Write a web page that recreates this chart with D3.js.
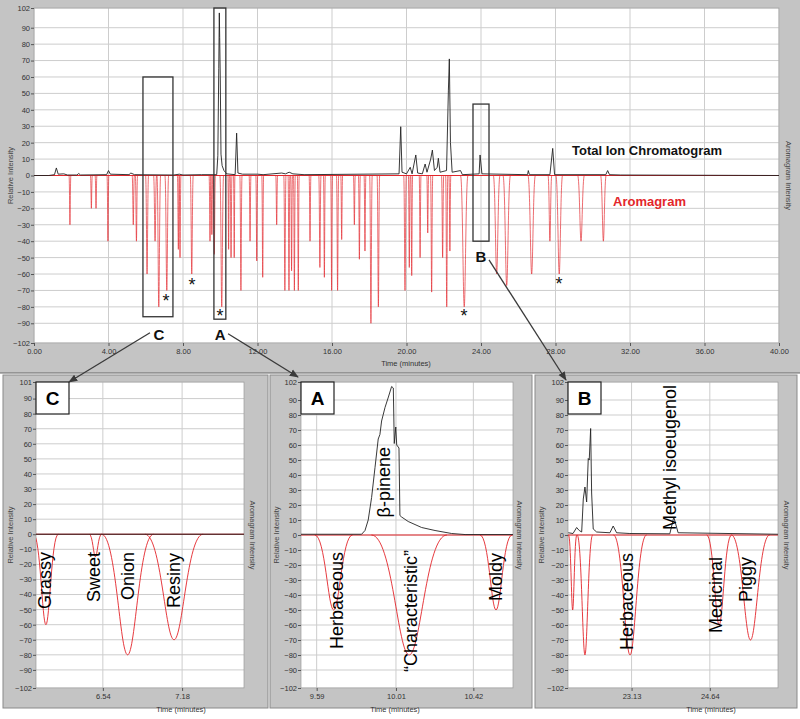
<!DOCTYPE html>
<html>
<head>
<meta charset="utf-8">
<script src="https://cdn.jsdelivr.net/npm/d3@7"></script>
<style>
	body { margin: 0; background: #fff; }
	svg { display: block; font-family: "Liberation Sans", Arial, sans-serif; }
</style>
</head>
<body>
<svg id="chart" width="800" height="719"></svg>
<script>
// ---------- data ----------
const yTicks = [102, 90, 80, 70, 60, 50, 40, 30, 20, 10, 0, -10, -20, -30, -40, -50, -60, -70, -80, -90, -102];
const yTicksC = [101, 90, 80, 70, 60, 50, 40, 30, 20, 10, 0, -10, -20, -30, -40, -50, -60, -70, -80, -90, -102];
const xTicksTop = [0, 4, 8, 12, 16, 20, 24, 28, 32, 36, 40];
const xTicksC = [6.54, 7.18];
const xTicksA = [9.59, 10.01, 10.42];
const xTicksB = [23.13, 24.64];

// full run aromagram: apex time, depth, half width (min)
const topPeakTime = [1.93, 3.08, 3.33, 3.97, 5.33, 5.5, 6.07, 6.5, 6.7, 7.13, 7.75, 7.84, 8.47, 9.45, 9.55, 9.68, 10.08,
	10.45, 10.58, 10.75, 11.11, 11.6, 11.96, 12.28, 13.03, 13.47, 13.69, 13.83, 13.98, 14.19, 14.82, 15.35, 15.59, 15.98,
	16.3, 16.52, 17.2, 17.47, 17.77, 18.09, 18.49, 19.92, 20.15, 20.28, 20.73, 21.14, 21.35, 21.94, 22.16, 22.33, 23.1,
	24.84, 25.38, 26.72, 27.7, 28.2, 29.37, 30.57];
const topPeakDepth = [30, 20, 20, 40, 30, 40, 60, 40, 80, 70, 45, 50, 60, 40, 36, 48, 80,
	45, 50, 50, 70, 40, 52, 62, 30, 70, 70, 58, 70, 70, 40, 56, 62, 70,
	70, 39, 30, 51, 46, 90, 80, 70, 56, 61, 50, 35, 71, 50, 80, 46, 80,
	60, 67, 60, 40, 60, 40, 40];
const topPeakWidth = [0.05, 0.05, 0.05, 0.05, 0.06, 0.06, 0.08, 0.08, 0.1, 0.1, 0.05, 0.05, 0.08, 0.05, 0.05, 0.06, 0.1,
	0.04, 0.05, 0.04, 0.06, 0.05, 0.05, 0.05, 0.05, 0.06, 0.05, 0.05, 0.05, 0.05, 0.05, 0.06, 0.05, 0.05,
	0.06, 0.05, 0.05, 0.05, 0.05, 0.07, 0.07, 0.07, 0.05, 0.05, 0.05, 0.05, 0.06, 0.06, 0.06, 0.05, 0.2,
	0.18, 0.2, 0.2, 0.1, 0.18, 0.18, 0.15];

// full run total ion chromatogram
const ticTime = [0, 0.8, 1.1, 1.2, 1.3, 1.6, 1.8, 2.3, 2.4, 2.5, 3.9, 4.0, 4.1, 5.1, 5.2, 5.4, 7.5, 7.8, 8.0, 9.0,
	9.81, 9.87, 9.92, 9.95, 9.97, 10.0, 10.04, 10.1, 10.2, 10.35, 10.8, 10.88, 10.95, 11.2, 12.0, 12.3, 13.3, 13.5,
	13.7, 13.9, 14.5, 19.6, 19.69, 19.76, 20.0, 20.2, 20.3, 20.5, 20.6, 20.85, 21.0, 21.1, 21.3, 21.39, 21.5, 21.65,
	21.71, 21.8, 22.15, 22.25, 22.3, 22.36, 22.45, 22.9, 23.0, 23.9, 23.95, 24.05, 26.5, 26.54, 26.6, 27.7, 27.85,
	27.95, 30.7, 30.8, 30.9, 31.5, 40];
const ticValue = [0, 0, 0.5, 4.6, 0.8, 1, 0.3, 0.3, 1.2, 0.3, 0.5, 3, 0.8, 0.5, 1.5, 0.5, 0.3, 0.8, 0.3, 0.5,
	0.5, 12, 65, 99, 84, 60, 13, 6, 3, 1, 0.5, 25.8, 1.5, 0.8, 0.8, 0.5, 1.5, 1,
	2, 1, 0.5, 1, 29.7, 2, 1, 5, 1, 12.5, 1.5, 1, 7, 2, 10, 15.5, 3, 5,
	10.5, 2, 3, 52, 71, 20, 2, 3, 0.5, 1, 12.5, 1, 0.5, 3, 0.5, 0.5, 16.5,
	0.5, 0.5, 3, 0.5, 0.3, 0];

// panel C
const cPeakTime = [6.08, 6.48, 6.74, 7.115];
const cPeakDepth = [60, 15, 80, 70];
const cPeakWidth = [0.1, 0.05, 0.21, 0.235];
const cTicTime = [6.0, 7.68];
const cTicValue = [0, 0];
const cLabels = ["Grassy", "Sweet", "Onion", "Resiny"];
const cLabelTime = [6.12, 6.52, 6.79, 7.16];

// panel A
const aPeakTime = [9.68, 10.08, 10.54];
const aPeakDepth = [50, 80, 50];
const aPeakWidth = [0.1, 0.2, 0.085];
const aTicTime = [9.507, 9.828, 9.846, 9.863, 9.881, 9.899, 9.916, 9.925, 9.934, 9.952, 9.97, 9.987, 9.996, 10.001,
	10.009, 10.014, 10.026, 10.031, 10.04, 10.075, 10.146, 10.217, 10.305, 10.376, 10.63];
const aTicValue = [0.5, 0.5, 3, 10, 25, 45, 64, 67, 76, 85, 92, 99, 98, 61,
	72, 60, 58, 13, 12, 9, 5, 3, 1, 0.3, 0.3];
const aLabels = ["Herbaceous", "β-pinene", "“Characteristic”", "Moldy"];
const aLabelTime = [9.73, 9.98, 10.12, 10.57];

// panel B
const bPeakTime = [21.993, 22.23, 23.1, 24.82, 25.425];
const bPeakDepth = [50, 80, 80, 60, 70];
const bPeakWidth = [0.08, 0.15, 0.32, 0.24, 0.37];
const bTicTime = [21.908, 22.0, 22.07, 22.12, 22.167, 22.198, 22.23, 22.263, 22.294, 22.313, 22.34, 22.359, 22.39,
	22.456, 22.712, 22.775, 22.841, 23.097, 23.868, 23.945, 24.028, 25.955];
const bTicValue = [1.5, 1, 5, 3, 2, 24, 32, 22, 51, 50, 71, 28, 4,
	2, 1.5, 6, 1.5, 1, 0.8, 12, 1.5, 0.5];
const bLabels = ["Herbaceous", "Methyl isoeugenol", "Medicinal", "Piggy"];
const bLabelTime = [23.16, 23.99, 24.87, 25.45];

// ---------- drawing ----------
const red = "#e3262b";
const grid = "#cdcdcd";
const svg = d3.select("#chart");

const defs = svg.append("defs");
defs.append("marker")
	.attr("id", "arrow")
	.attr("viewBox", "0 0 10 10")
	.attr("refX", 9)
	.attr("refY", 5)
	.attr("markerWidth", 7)
	.attr("markerHeight", 7)
	.attr("orient", "auto")
	.append("path")
	.attr("d", "M0,1 L10,5 L0,9 Z")
	.attr("fill", "#3a3a3a");

svg.append("rect").attr("width", 800).attr("height", 719).attr("fill", "#fff");
svg.append("rect").attr("width", 800).attr("height", 373).attr("fill", "#c4c4c4");
svg.append("line").attr("x1", 0).attr("x2", 800).attr("y1", 373).attr("y2", 373).attr("stroke", "#666");

function peakPath(x, y, t, d, w) {
	const yb = y(0);
	const yp = y(-d);
	return "M" + [x(t - w), yb] +
		"C" + [x(t - w * 0.45), yb] + " " + [x(t - w * 0.3), yp] + " " + [x(t), yp] +
		"C" + [x(t + w * 0.3), yp] + " " + [x(t + w * 0.45), yb] + " " + [x(t + w), yb];
}

let clipId = 0;

function drawPlot(cfg) {
	const g = svg.append("g");
	const x = d3.scaleLinear().domain(cfg.xDomain).range([cfg.x0, cfg.x1]);
	const y = d3.scaleLinear().domain(cfg.yDomain).range([cfg.y1, cfg.y0]);

	g.append("rect")
		.attr("x", cfg.x0).attr("y", cfg.y0)
		.attr("width", cfg.x1 - cfg.x0).attr("height", cfg.y1 - cfg.y0)
		.attr("fill", "#fff");

	g.selectAll(".hgrid")
		.data(cfg.yTicks)
		.join("line")
		.attr("class", "hgrid")
		.attr("x1", cfg.x0).attr("x2", cfg.x1)
		.attr("y1", (d) => y(d)).attr("y2", (d) => y(d))
		.attr("stroke", grid);

	g.selectAll(".vgrid")
		.data(cfg.xTicks)
		.join("line")
		.attr("class", "vgrid")
		.attr("y1", cfg.y0).attr("y2", cfg.y1)
		.attr("x1", (d) => x(d)).attr("x2", (d) => x(d))
		.attr("stroke", grid);

	g.append("rect")
		.attr("x", cfg.x0).attr("y", cfg.y0)
		.attr("width", cfg.x1 - cfg.x0).attr("height", cfg.y1 - cfg.y0)
		.attr("fill", "none")
		.attr("stroke", "#9a9a9a")
		.attr("stroke-width", 0.7);

	const yAxis = g.append("g")
		.attr("transform", `translate(${cfg.x0},0)`)
		.call(d3.axisLeft(y).tickValues(cfg.yTicks).tickSize(3).tickPadding(1));
	const xAxis = g.append("g")
		.attr("transform", `translate(0,${cfg.y1})`)
		.call(d3.axisBottom(x).tickValues(cfg.xTicks).tickSize(3).tickPadding(3).tickFormat(d3.format(".2f")));
	[yAxis, xAxis].forEach((a) => {
		a.select(".domain").remove();
		a.selectAll("line").attr("stroke", "#555");
		a.selectAll("text").attr("font-size", 7.5).attr("fill", "#333").attr("font-family", null);
	});

	g.append("text")
		.attr("transform", `translate(${cfg.relX},${(cfg.y0 + cfg.y1) / 2}) rotate(-90)`)
		.attr("text-anchor", "middle")
		.attr("font-size", 7.5)
		.attr("fill", "#444")
		.text("Relative Intensity");
	g.append("text")
		.attr("transform", `translate(${cfg.aroX},${(cfg.y0 + cfg.y1) / 2}) rotate(90)`)
		.attr("text-anchor", "middle")
		.attr("font-size", 7.5)
		.attr("fill", "#444")
		.text("Aromagram Intensity");
	g.append("text")
		.attr("x", cfg.timeX).attr("y", cfg.timeY)
		.attr("text-anchor", "middle")
		.attr("font-size", 7.5)
		.attr("fill", "#333")
		.text("Time (minutes)");

	const id = "clip" + clipId++;
	defs.append("clipPath").attr("id", id)
		.append("rect")
		.attr("x", cfg.x0).attr("y", cfg.y0)
		.attr("width", cfg.x1 - cfg.x0).attr("height", cfg.y1 - cfg.y0);
	const plot = g.append("g").attr("clip-path", `url(#${id})`);

	plot.append("line")
		.attr("x1", cfg.x0).attr("x2", cfg.x1)
		.attr("y1", y(0)).attr("y2", y(0))
		.attr("stroke", red)
		.attr("stroke-width", 1);

	plot.selectAll(".peak")
		.data(cfg.peakTime.map((t, i) => ({ t, d: cfg.peakDepth[i], w: cfg.peakWidth[i] })))
		.join("path")
		.attr("class", "peak")
		.attr("d", (p) => peakPath(x, y, p.t, p.d, p.w))
		.attr("fill", "none")
		.attr("stroke", red)
		.attr("stroke-opacity", cfg.peakOpacity)
		.attr("stroke-width", cfg.peakStroke);

	const line = d3.line().x((d) => x(d[0])).y((d) => y(d[1]));
	plot.append("path")
		.datum(cfg.ticTime.map((t, i) => [t, cfg.ticValue[i]]))
		.attr("d", line)
		.attr("fill", "none")
		.attr("stroke", "#222")
		.attr("stroke-width", 0.9);

	return { g, x, y };
}

// ---------- full run chart ----------
const full = drawPlot({
	x0: 34, x1: 779, y0: 8, y1: 343,
	xDomain: [0, 40], yDomain: [-102, 102],
	xTicks: xTicksTop, yTicks: yTicks,
	relX: 13, aroX: 786, timeX: 406, timeY: 366,
	peakTime: topPeakTime, peakDepth: topPeakDepth, peakWidth: topPeakWidth,
	peakStroke: 0.9, peakOpacity: 0.75,
	ticTime: ticTime, ticValue: ticValue,
});

// zoom boxes on the full run (time / intensity units)
const zoomBoxes = [
	{ t0: 5.85, t1: 7.46, v0: -86, v1: 60 },
	{ t0: 9.66, t1: 10.3, v0: -87.5, v1: 102 },
	{ t0: 23.57, t1: 24.43, v0: -40, v1: 43.5 },
];
full.g.selectAll(".zbox")
	.data(zoomBoxes)
	.join("rect")
	.attr("class", "zbox")
	.attr("x", (b) => full.x(b.t0))
	.attr("y", (b) => full.y(b.v1))
	.attr("width", (b) => full.x(b.t1) - full.x(b.t0))
	.attr("height", (b) => full.y(b.v0) - full.y(b.v1))
	.attr("fill", "none")
	.attr("stroke", "#333")
	.attr("stroke-width", 1.3);

const stars = [[7.09, -74.6], [8.48, -64.9], [9.99, -83.7], [23.09, -83.7], [28.19, -64.3]];
full.g.selectAll(".star")
	.data(stars)
	.join("text")
	.attr("class", "star")
	.attr("x", (s) => full.x(s[0]))
	.attr("y", (s) => full.y(s[1]) + 9)
	.attr("text-anchor", "middle")
	.attr("font-size", 18)
	.attr("fill", "#111")
	.text("*");

const zoomLetters = [["C", 6.71, -97], ["A", 9.99, -97], ["B", 24.0, -49.6]];
full.g.selectAll(".zl")
	.data(zoomLetters)
	.join("text")
	.attr("class", "zl")
	.attr("x", (s) => full.x(s[1]))
	.attr("y", (s) => full.y(s[2]) + 5.5)
	.attr("text-anchor", "middle")
	.attr("font-size", 15)
	.attr("font-weight", "bold")
	.attr("fill", "#111")
	.text((s) => s[0]);

full.g.append("text")
	.attr("x", 572).attr("y", 155)
	.attr("font-size", 13)
	.attr("font-weight", "bold")
	.attr("fill", "#111")
	.text("Total Ion Chromatogram");
full.g.append("text")
	.attr("x", 613).attr("y", 206)
	.attr("font-size", 13)
	.attr("font-weight", "bold")
	.attr("fill", red)
	.text("Aromagram");

// ---------- zoom panels ----------
const frames = [[3, 375, 265, 333], [270, 375, 262, 333], [535, 375, 262, 333]];
svg.selectAll(".frame")
	.data(frames)
	.join("rect")
	.attr("class", "frame")
	.attr("x", (f) => f[0]).attr("y", (f) => f[1])
	.attr("width", (f) => f[2]).attr("height", (f) => f[3])
	.attr("fill", "#c4c4c4")
	.attr("stroke", "#8a8a8a");

const panels = [
	{
		key: "C", x0: 36, x1: 244, xDomain: [6.0, 7.68], yDomain: [-102, 101], yTicks: yTicksC, xTicks: xTicksC,
		relX: 13, aroX: 250, timeX: 181, peakTime: cPeakTime, peakDepth: cPeakDepth, peakWidth: cPeakWidth,
		ticTime: cTicTime, ticValue: cTicValue, labels: cLabels, labelTime: cLabelTime,
		labelEnd: [552, 552, 552, 553],
	},
	{
		key: "A", x0: 301, x1: 513, xDomain: [9.507, 10.63], yDomain: [-102, 102], yTicks: yTicks, xTicks: xTicksA,
		relX: 279, aroX: 517, timeX: 395, peakTime: aPeakTime, peakDepth: aPeakDepth, peakWidth: aPeakWidth,
		ticTime: aTicTime, ticValue: aTicValue, labels: aLabels, labelTime: aLabelTime,
		labelEnd: [552, 447, 550, 553],
	},
	{
		key: "B", x0: 568, x1: 778, xDomain: [21.903, 25.956], yDomain: [-102, 102], yTicks: yTicks, xTicks: xTicksB,
		relX: 544, aroX: 784, timeX: 711, peakTime: bPeakTime, peakDepth: bPeakDepth, peakWidth: bPeakWidth,
		ticTime: bTicTime, ticValue: bTicValue, labels: bLabels, labelTime: bLabelTime,
		labelEnd: [553, 385, 557, 557],
	},
];

panels.forEach((p) => {
	const res = drawPlot({
		...p, y0: 382, y1: 688, timeY: 712, peakStroke: 1, peakOpacity: 0.9,
	});
	// rotated descriptors
	res.g.selectAll(".desc")
		.data(p.labels.map((s, i) => ({ s, t: p.labelTime[i], end: p.labelEnd[i] })))
		.join("text")
		.attr("class", "desc")
		.attr("transform", (d) => `translate(${res.x(d.t)},${d.end}) rotate(-90)`)
		.attr("text-anchor", "end")
		.attr("font-size", 18)
		.attr("fill", "#000")
		.text((d) => d.s);
	// letter box
	res.g.append("rect")
		.attr("x", p.x0).attr("y", 382)
		.attr("width", 33).attr("height", 32)
		.attr("fill", "#fff")
		.attr("stroke", "#222")
		.attr("stroke-width", 1.2);
	res.g.append("text")
		.attr("x", p.x0 + 16.5).attr("y", 405)
		.attr("text-anchor", "middle")
		.attr("font-size", 19)
		.attr("font-weight", "bold")
		.attr("fill", "#000")
		.text(p.key);
});

// ---------- arrows from the full run to the panels ----------
const arrows = [
	[full.x(6.71) - 9, full.y(-97) - 2, 69, 382],
	[full.x(9.99) + 8, full.y(-97) - 1, 298, 377],
	[full.x(24.0) + 8, full.y(-49.6) + 3, 566, 380],
];
svg.selectAll(".arrow")
	.data(arrows)
	.join("line")
	.attr("class", "arrow")
	.attr("x1", (a) => a[0]).attr("y1", (a) => a[1])
	.attr("x2", (a) => a[2]).attr("y2", (a) => a[3])
	.attr("stroke", "#3a3a3a")
	.attr("stroke-width", 1.3)
	.attr("marker-end", "url(#arrow)");
</script>
</body>
</html>
